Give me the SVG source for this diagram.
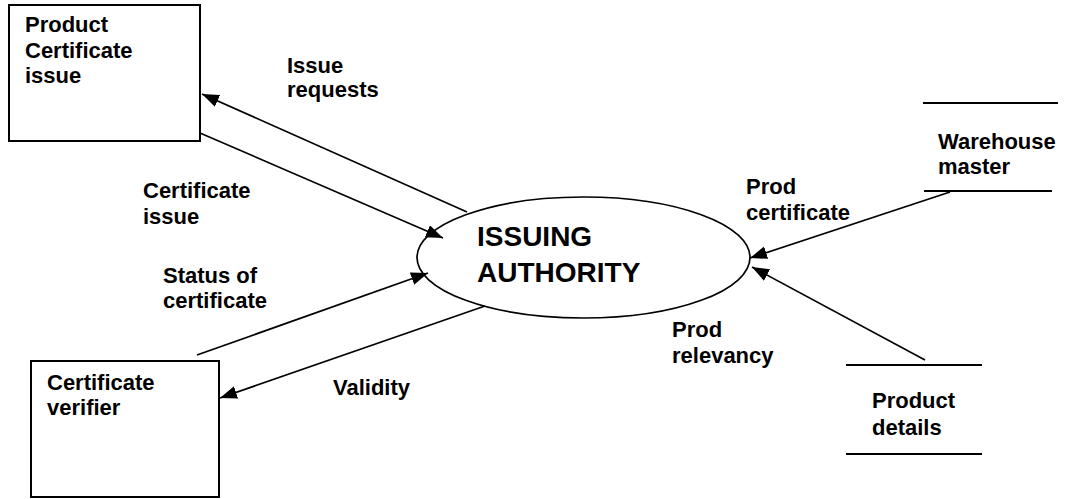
<svg xmlns="http://www.w3.org/2000/svg" width="1071" height="499" viewBox="0 0 1071 499">
  <style>
    .lbl { font-family: "Liberation Sans", Arial, sans-serif; font-weight: bold; font-size: 22px; fill: #000; }
    .title { font-family: "Liberation Sans", Arial, sans-serif; font-weight: bold; font-size: 28px; fill: #000; }
    .box { fill: #fff; stroke: #000; stroke-width: 2; }
    .store { stroke: #000; stroke-width: 2; fill: none; }
    .flow { stroke: #000; stroke-width: 1.7; fill: none; marker-end: url(#head); }
  </style>
  <defs>
    <marker id="head" markerUnits="userSpaceOnUse" markerWidth="20" markerHeight="14" refX="17" refY="6.5" orient="auto">
      <path d="M0,0 L17,6.5 L0,13 Z" fill="#000"/>
    </marker>
  </defs>
  <rect width="1071" height="499" fill="#fff"/>

  <!-- external entity: certificate issuer -->
  <g id="product-certificate-issue">
    <rect class="box" x="9" y="5" width="191" height="136"/>
    <text class="lbl" x="25" y="32">Product</text>
    <text class="lbl" x="25" y="58">Certificate</text>
    <text class="lbl" x="25" y="83">issue</text>
  </g>

  <!-- external entity: verifier -->
  <g id="certificate-verifier">
    <rect class="box" x="31" y="361" width="188" height="136"/>
    <text class="lbl" x="47" y="390">Certificate</text>
    <text class="lbl" x="47" y="415">verifier</text>
  </g>

  <!-- central process -->
  <g id="issuing-authority">
    <ellipse cx="583.5" cy="257.5" rx="166.5" ry="60.5" fill="#fff" stroke="#000" stroke-width="1.7"/>
    <text class="title" x="477" y="246">ISSUING</text>
    <text class="title" x="477" y="282">AUTHORITY</text>
  </g>

  <!-- data stores -->
  <g id="warehouse-master">
    <line class="store" x1="923" y1="103" x2="1058" y2="103"/>
    <line class="store" x1="924" y1="191" x2="1052" y2="191"/>
    <text class="lbl" x="938" y="149">Warehouse</text>
    <text class="lbl" x="938" y="174">master</text>
  </g>
  <g id="product-details">
    <line class="store" x1="846" y1="365" x2="982" y2="365"/>
    <line class="store" x1="846" y1="454" x2="982" y2="454"/>
    <text class="lbl" x="872" y="408">Product</text>
    <text class="lbl" x="872" y="435">details</text>
  </g>

  <!-- data flows -->
  <g id="connectors">
    <line class="flow" x1="467" y1="212" x2="202" y2="94"/>
    <line class="flow" x1="200" y1="133" x2="443" y2="238"/>
    <line class="flow" x1="197" y1="355" x2="428" y2="273"/>
    <line class="flow" x1="485" y1="306" x2="220" y2="398"/>
    <line class="flow" x1="950" y1="192" x2="750" y2="258"/>
    <line class="flow" x1="925" y1="360" x2="752" y2="267"/>
  </g>

  <!-- flow labels -->
  <g id="flow-labels">
    <text class="lbl" x="287" y="73">Issue</text>
    <text class="lbl" x="287" y="97">requests</text>
    <text class="lbl" x="143" y="198">Certificate</text>
    <text class="lbl" x="143" y="224">issue</text>
    <text class="lbl" x="163" y="283">Status of</text>
    <text class="lbl" x="163" y="308">certificate</text>
    <text class="lbl" x="333" y="395">Validity</text>
    <text class="lbl" x="746" y="194">Prod</text>
    <text class="lbl" x="746" y="220">certificate</text>
    <text class="lbl" x="672" y="337">Prod</text>
    <text class="lbl" x="672" y="363">relevancy</text>
  </g>
</svg>
